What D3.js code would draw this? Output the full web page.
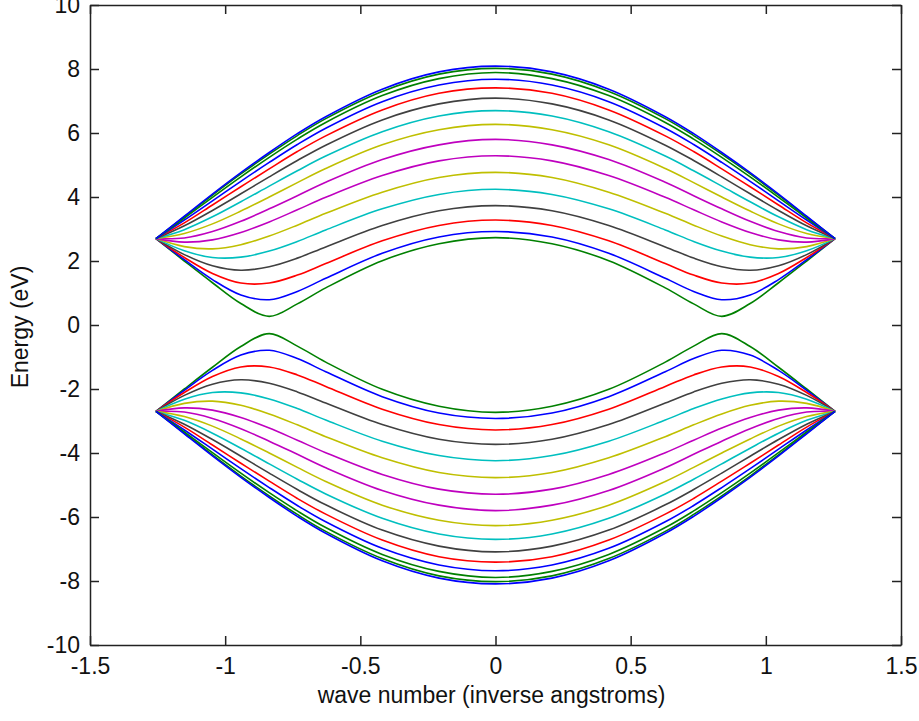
<!DOCTYPE html>
<html>
<head>
<meta charset="utf-8">
<script src="https://cdn.jsdelivr.net/npm/d3@7"></script>
<style>
  body { margin: 0; background: #fff; }
  text { font-family: "Liberation Sans", Arial, sans-serif; }
</style>
</head>
<body>
<div id="chart"></div>
<script>
// wave number samples (inverse angstroms)
var kValues = [-1.256, -1.151, -1.047, -0.942, -0.837, -0.733, -0.628, -0.419, -0.209, 0,
  0.209, 0.419, 0.628, 0.733, 0.837, 0.942, 1.047, 1.151, 1.256];

// conduction band, one row per curve (eV)
var upperBand = [
  [2.70,3.40,4.09,4.76,5.39,5.98,6.51,7.37,7.91,8.09,7.91,7.37,6.51,5.98,5.39,4.76,4.09,3.40,2.70],
  [2.70,3.38,4.06,4.72,5.34,5.92,6.45,7.30,7.84,8.02,7.84,7.30,6.45,5.92,5.34,4.72,4.06,3.38,2.70],
  [2.70,3.34,3.99,4.63,5.24,5.81,6.33,7.17,7.70,7.89,7.70,7.17,6.33,5.81,5.24,4.63,3.99,3.34,2.70],
  [2.70,3.28,3.88,4.49,5.08,5.64,6.15,6.98,7.50,7.68,7.50,6.98,6.15,5.64,5.08,4.49,3.88,3.28,2.70],
  [2.70,3.19,3.75,4.32,4.88,5.42,5.91,6.72,7.24,7.41,7.24,6.72,5.91,5.42,4.88,4.32,3.75,3.19,2.70],
  [2.70,3.10,3.58,4.10,4.63,5.14,5.62,6.41,6.91,7.09,6.91,6.41,5.62,5.14,4.63,4.10,3.58,3.10,2.70],
  [2.70,2.98,3.38,3.85,4.34,4.82,5.28,6.04,6.53,6.70,6.53,6.04,5.28,4.82,4.34,3.85,3.38,2.98,2.70],
  [2.70,2.86,3.16,3.56,4.00,4.45,4.89,5.63,6.10,6.27,6.10,5.63,4.89,4.45,4.00,3.56,3.16,2.86,2.70],
  [2.70,2.72,2.92,3.24,3.63,4.04,4.46,5.17,5.63,5.80,5.63,5.17,4.46,4.04,3.63,3.24,2.92,2.72,2.70],
  [2.70,2.59,2.66,2.89,3.22,3.60,3.99,4.67,5.13,5.29,5.13,4.67,3.99,3.60,3.22,2.89,2.66,2.59,2.70],
  [2.70,2.45,2.38,2.51,2.78,3.12,3.49,4.15,4.61,4.77,4.61,4.15,3.49,3.12,2.78,2.51,2.38,2.45,2.70],
  [2.70,2.32,2.11,2.12,2.31,2.61,2.97,3.63,4.08,4.24,4.08,3.63,2.97,2.61,2.31,2.12,2.11,2.32,2.70],
  [2.70,2.20,1.85,1.71,1.82,2.09,2.44,3.11,3.57,3.73,3.57,3.11,2.44,2.09,1.82,1.71,1.85,2.20,2.70],
  [2.70,2.11,1.61,1.31,1.31,1.56,1.92,2.63,3.11,3.28,3.11,2.63,1.92,1.56,1.31,1.31,1.61,2.11,2.70],
  [2.70,2.04,1.42,0.94,0.79,1.05,1.46,2.24,2.75,2.92,2.75,2.24,1.46,1.05,0.79,0.94,1.42,2.04,2.70],
  [2.70,2.00,1.32,0.67,0.27,0.66,1.16,2.01,2.54,2.73,2.54,2.01,1.16,0.66,0.27,0.67,1.32,2.00,2.70]
];

// valence band (eV)
var lowerBand = [
  [-2.70,-3.40,-4.09,-4.76,-5.39,-5.98,-6.51,-7.37,-7.91,-8.09,-7.91,-7.37,-6.51,-5.98,-5.39,-4.76,-4.09,-3.40,-2.70],
  [-2.70,-3.38,-4.06,-4.72,-5.34,-5.92,-6.45,-7.30,-7.84,-8.02,-7.84,-7.30,-6.45,-5.92,-5.34,-4.72,-4.06,-3.38,-2.70],
  [-2.70,-3.34,-3.99,-4.63,-5.24,-5.81,-6.33,-7.17,-7.70,-7.89,-7.70,-7.17,-6.33,-5.81,-5.24,-4.63,-3.99,-3.34,-2.70],
  [-2.70,-3.28,-3.88,-4.49,-5.08,-5.64,-6.15,-6.98,-7.50,-7.68,-7.50,-6.98,-6.15,-5.64,-5.08,-4.49,-3.88,-3.28,-2.70],
  [-2.70,-3.19,-3.75,-4.32,-4.88,-5.42,-5.91,-6.72,-7.24,-7.41,-7.24,-6.72,-5.91,-5.42,-4.88,-4.32,-3.75,-3.19,-2.70],
  [-2.70,-3.10,-3.58,-4.10,-4.63,-5.14,-5.62,-6.41,-6.91,-7.09,-6.91,-6.41,-5.62,-5.14,-4.63,-4.10,-3.58,-3.10,-2.70],
  [-2.70,-2.98,-3.38,-3.85,-4.34,-4.82,-5.28,-6.04,-6.53,-6.70,-6.53,-6.04,-5.28,-4.82,-4.34,-3.85,-3.38,-2.98,-2.70],
  [-2.70,-2.86,-3.16,-3.56,-4.00,-4.45,-4.89,-5.63,-6.10,-6.27,-6.10,-5.63,-4.89,-4.45,-4.00,-3.56,-3.16,-2.86,-2.70],
  [-2.70,-2.72,-2.92,-3.24,-3.63,-4.04,-4.46,-5.17,-5.63,-5.80,-5.63,-5.17,-4.46,-4.04,-3.63,-3.24,-2.92,-2.72,-2.70],
  [-2.70,-2.59,-2.66,-2.89,-3.22,-3.60,-3.99,-4.67,-5.13,-5.29,-5.13,-4.67,-3.99,-3.60,-3.22,-2.89,-2.66,-2.59,-2.70],
  [-2.70,-2.45,-2.38,-2.51,-2.78,-3.12,-3.49,-4.15,-4.61,-4.77,-4.61,-4.15,-3.49,-3.12,-2.78,-2.51,-2.38,-2.45,-2.70],
  [-2.70,-2.32,-2.11,-2.12,-2.31,-2.61,-2.97,-3.63,-4.08,-4.24,-4.08,-3.63,-2.97,-2.61,-2.31,-2.12,-2.11,-2.32,-2.70],
  [-2.70,-2.20,-1.85,-1.71,-1.82,-2.09,-2.44,-3.11,-3.57,-3.73,-3.57,-3.11,-2.44,-2.09,-1.82,-1.71,-1.85,-2.20,-2.70],
  [-2.70,-2.11,-1.61,-1.31,-1.31,-1.56,-1.92,-2.63,-3.11,-3.28,-3.11,-2.63,-1.92,-1.56,-1.31,-1.31,-1.61,-2.11,-2.70],
  [-2.70,-2.04,-1.42,-0.94,-0.79,-1.05,-1.46,-2.24,-2.75,-2.92,-2.75,-2.24,-1.46,-1.05,-0.79,-0.94,-1.42,-2.04,-2.70],
  [-2.70,-2.00,-1.32,-0.67,-0.27,-0.66,-1.16,-2.01,-2.54,-2.73,-2.54,-2.01,-1.16,-0.66,-0.27,-0.67,-1.32,-2.00,-2.70]
];

// matlab style colour letters, same order for both bands
var curveColors = ["b","g","g","b","r","k","c","y","m","m","y","c","k","r","b","g"];
var palette = { b: "#0000ff", g: "#008000", r: "#ff0000", c: "#00bfbf", m: "#bf00bf", y: "#bfbf00", k: "#404040" };

var xTicks = [-1.5, -1, -0.5, 0, 0.5, 1, 1.5];
var yTicks = [-10, -8, -6, -4, -2, 0, 2, 4, 6, 8, 10];

var width = 919, height = 721;
var margin = { left: 90, top: 5, right: 18, bottom: 76 };
var w = width - margin.left - margin.right,
  h = height - margin.top - margin.bottom;

var svg = d3.select("#chart")
  .append("svg")
  .attr("width", width)
  .attr("height", height)
  .style("display", "block");

var g = svg.append("g")
  .attr("transform", "translate(" + margin.left + "," + margin.top + ")");

var x = d3.scaleLinear().domain([-1.5, 1.5]).range([0, w]);
var y = d3.scaleLinear().domain([-10, 10]).range([h, 0]);

var line = d3.line()
  .x(function (d, i) { return x(kValues[i]); })
  .y(function (d) { return y(d); })
  .curve(d3.curveCatmullRom.alpha(0.5));

var curves = [];
upperBand.forEach(function (row, i) { curves.push({ vals: row, color: curveColors[i] }); });
lowerBand.forEach(function (row, i) { curves.push({ vals: row, color: curveColors[i] }); });

// draw in reverse so the outermost curves end up on top
g.append("g")
  .selectAll("path")
  .data(curves.slice().reverse())
  .enter()
  .append("path")
  .attr("d", function (d) { return line(d.vals); })
  .attr("fill", "none")
  .attr("stroke", function (d) { return palette[d.color]; })
  .attr("stroke-width", 1.6);

function styleAxis(sel) {
  sel.select(".domain").attr("stroke", "#222").attr("stroke-width", 1.5);
  sel.selectAll(".tick line").attr("stroke", "#222").attr("stroke-width", 1.5);
  sel.selectAll(".tick text").attr("fill", "#111").style("font-size", "23px");
}

var fmt = function (d) { return String(d); };

g.append("g")
  .attr("transform", "translate(0," + h + ")")
  .call(d3.axisBottom(x).tickValues(xTicks).tickFormat(fmt).tickSizeInner(-9).tickSizeOuter(0).tickPadding(13))
  .call(styleAxis);

g.append("g")
  .call(d3.axisTop(x).tickValues(xTicks).tickFormat("").tickSizeInner(-9).tickSizeOuter(0))
  .call(styleAxis);

g.append("g")
  .call(d3.axisLeft(y).tickValues(yTicks).tickFormat(fmt).tickSizeInner(-9).tickSizeOuter(0).tickPadding(10))
  .call(styleAxis);

g.append("g")
  .attr("transform", "translate(" + w + ",0)")
  .call(d3.axisRight(y).tickValues(yTicks).tickFormat("").tickSizeInner(-9).tickSizeOuter(0))
  .call(styleAxis);

svg.append("text")
  .attr("x", margin.left + w / 2 - 4)
  .attr("y", 703)
  .attr("text-anchor", "middle")
  .attr("fill", "#111")
  .style("font-size", "23px")
  .text("wave number (inverse angstroms)");

svg.append("text")
  .attr("transform", "translate(28," + (margin.top + h / 2 + 2) + ") rotate(-90)")
  .attr("text-anchor", "middle")
  .attr("fill", "#111")
  .style("font-size", "23px")
  .text("Energy (eV)");
</script>
</body>
</html>
